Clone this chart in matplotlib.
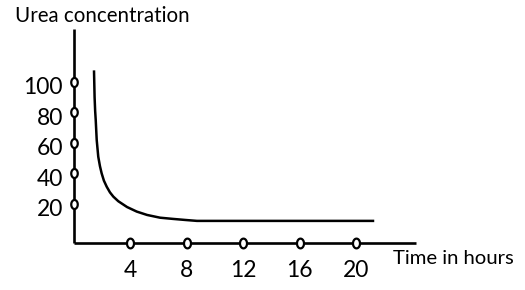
import matplotlib
matplotlib.use("Agg")
import matplotlib.pyplot as plt
import matplotlib.transforms as mtrans
from matplotlib.path import Path
import numpy as np

# Data
x_ticks = [4, 8, 12, 16, 20]
y_ticks = [20, 40, 60, 80, 100]
time_h = [1.42, 1.46, 1.50, 1.54, 1.61, 1.72, 1.84, 1.96, 2.12, 2.32, 2.55, 2.79, 3.14, 3.76, 4.45, 5.18, 6.1, 7.02, 7.9, 8.72, 9.5, 12.0, 15.0, 18.0, 21.2]
urea = [106.8, 90.0, 81.0, 75.1, 62.0, 51.0, 44.8, 40.1, 35.3, 31.3, 27.6, 24.8, 21.8, 18.0, 15.0, 12.8, 11.0, 10.2, 9.5, 8.9, 8.9, 8.9, 8.9, 8.9, 8.9]

fig = plt.figure(figsize=(5.25, 2.9), dpi=100)
ax = fig.add_axes([74/525, (290-243)/290, (416-74)/525, (243-29)/290])
font = "Lato"

ax.set_xlim(0, 24.25)
ax.set_ylim(-5.6, 134.75)

for s in ["top", "right"]:
    ax.spines[s].set_visible(False)
for s in ["left", "bottom"]:
    ax.spines[s].set_linewidth(1.9)
    ax.spines[s].set_capstyle("butt")

ax.plot(time_h, urea, color="black", lw=1.8, solid_joinstyle="round")

# elliptical tick markers
th = np.linspace(0, 2*np.pi, 40)
ellipse = Path(np.column_stack([0.72*np.cos(th), np.sin(th)]), closed=True)
ax.plot(x_ticks, [-5.6]*len(x_ticks), linestyle="none", marker=ellipse, markersize=7,
        mfc="white", mec="black", mew=1.6, clip_on=False, zorder=5)
ax.plot([0]*len(y_ticks), y_ticks, linestyle="none", marker=ellipse, markersize=6.5,
        mfc="white", mec="black", mew=1.6, clip_on=False, zorder=5)

ax.set_xticks(x_ticks)
ax.set_xticklabels([str(v) for v in x_ticks], fontsize=16.5, family=font)
ax.set_yticks(y_ticks)
ax.set_yticklabels([str(v) for v in y_ticks], fontsize=16.5, family=font)
ax.tick_params(axis="both", length=0)
ax.tick_params(axis="x", pad=12)
ax.tick_params(axis="y", pad=8)
off = mtrans.ScaledTranslation(0, -4/100, fig.dpi_scale_trans)
for lab in ax.get_yticklabels():
    lab.set_transform(lab.get_transform() + off)

fig.text(15/525, 1-16/290, "Urea concentration", fontsize=14.8, family=font,
         ha="left", va="center")
fig.text(393/525, 1-259/290, "Time in hours", fontsize=14.6, family=font,
         ha="left", va="center")

fig.savefig("out.png", dpi=100)
